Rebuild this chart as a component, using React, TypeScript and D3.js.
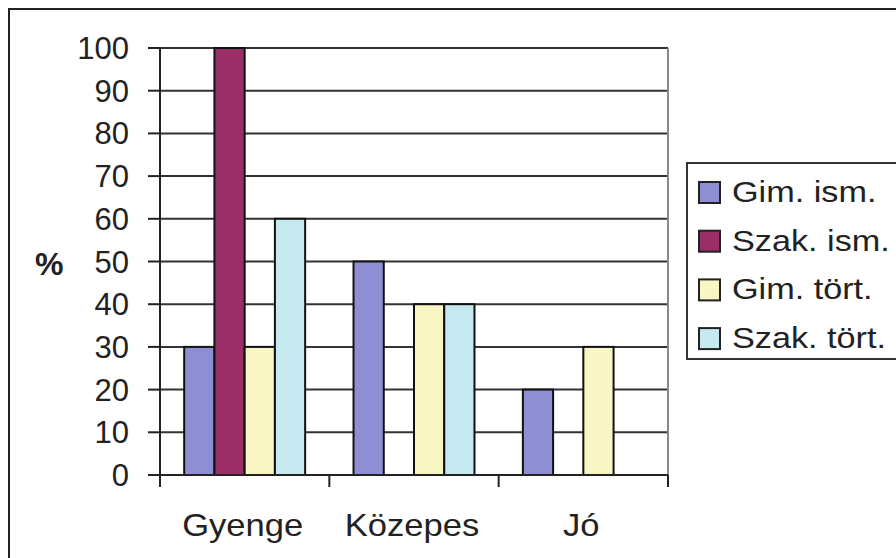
import React from "react";
import * as d3 from "d3";

const categories = ["Gyenge", "Közepes", "Jó"];
const series = ["Gim. ism.", "Szak. ism.", "Gim. tört.", "Szak. tört."];
const gimIsm = [30, 50, 20];
const szakIsm = [100, 0, 0];
const gimTort = [30, 40, 30];
const szakTort = [60, 40, 0];
const yTicks = [0, 10, 20, 30, 40, 50, 60, 70, 80, 90, 100];
const colors = ["#8d8fd2", "#9a2f68", "#f7f6c4", "#c6e9ef"];

const values = [gimIsm, szakIsm, gimTort, szakTort];

export default function App() {
  const W = 896, H = 558;
  const left = 160, right = 668, top = 48, bottom = 475;
  const x = d3.scaleBand<string>().domain(categories).range([left, right]).padding(0);
  const xs = d3.scaleBand<string>().domain(series).range([0, x.bandwidth()]).paddingInner(0).paddingOuter(0.8);
  const y = d3.scaleLinear().domain([0, 100]).range([bottom, top]);
  const font = "Arial, 'Liberation Sans', sans-serif";
  const catTicks = [...categories.map((c) => x(c)!), right];

  return (
    <svg width={W} height={H} style={{ position: "absolute", left: 0, top: 0, background: "#fff" }} fontFamily={font}>
      <rect x={9} y={9} width={W + 10} height={H + 10} fill="#fff" stroke="#222" strokeWidth={2} />
      {/* gridlines */}
      {yTicks.filter((t) => t > 0).map((t) => (
        <line key={t} x1={left} x2={right} y1={y(t)} y2={y(t)} stroke="#333" strokeWidth={2} />
      ))}
      <line x1={right} x2={right} y1={top} y2={bottom} stroke="#888" strokeWidth={2} />
      {/* bars */}
      {categories.map((c, ci) =>
        series.map((s, si) => {
          const v = values[si][ci];
          if (!v) return null;
          return (
            <rect key={c + s} x={x(c)! + xs(s)!} y={y(v)} width={xs.bandwidth()} height={y(0) - y(v)}
              fill={colors[si]} stroke="#111" strokeWidth={2} />
          );
        })
      )}
      {/* axes */}
      <line x1={left} x2={left} y1={top} y2={bottom} stroke="#222" strokeWidth={2} />
      <line x1={left - 1} x2={right} y1={bottom} y2={bottom} stroke="#222" strokeWidth={2} />
      {yTicks.map((t) => (
        <g key={t}>
          <line x1={left - 12} x2={left} y1={y(t)} y2={y(t)} stroke="#222" strokeWidth={2} />
          <text x={129} y={y(t) + 11} textAnchor="end" fontSize={31} fill="#222">{t}</text>
        </g>
      ))}
      {catTicks.map((t, i) => (
        <line key={i} x1={t} x2={t} y1={bottom} y2={bottom + 12} stroke="#222" strokeWidth={2} />
      ))}
      {categories.map((c) => (
        <text key={c} transform={`translate(${x(c)! + x.bandwidth() / 2 - 2}, 536) scale(1.08, 1)`} textAnchor="middle" fontSize={32} fill="#222">{c}</text>
      ))}
      <text x={35} y={275} fontSize={32} fontWeight="bold" fill="#222">%</text>
      {/* legend */}
      <rect x={687} y={163} width={240} height={196} fill="#fff" stroke="#333" strokeWidth={2} />
      {series.map((s, i) => (
        <g key={s} transform={`translate(699, ${192 + i * 48.7})`}>
          <rect x={0} y={-10} width={21} height={21} fill={colors[i]} stroke="#222" strokeWidth={2} />
          <text transform="translate(33, 10) scale(1.18, 1)" fontSize={29} fill="#222">{s}</text>
        </g>
      ))}
    </svg>
  );
}
